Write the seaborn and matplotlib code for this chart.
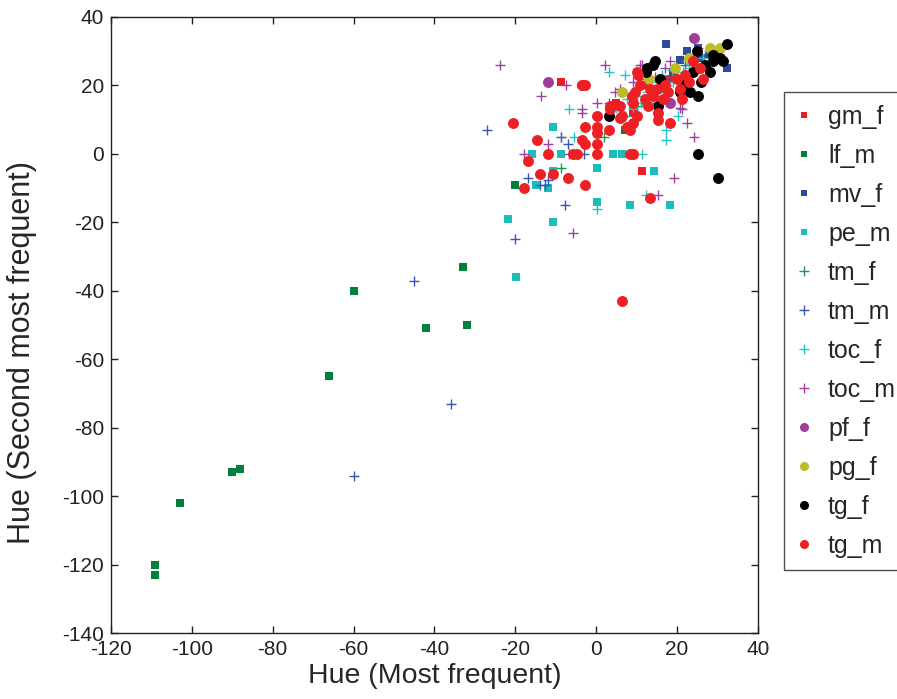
import numpy as np
import pandas as pd
import seaborn as sns
from matplotlib import pyplot as plt
from matplotlib.lines import Line2D

# hue pairs (most frequent, second most frequent) per group
gm_f_x = [-8.7, 11.4, 5, 12, 18, 9]
gm_f_y = [21, -5, 15, 20, 22, 12]

lf_m_x = [-109, -109, -103, -90, -88, -66, -60, -42, -33, -32, -20, 7]
lf_m_y = [-120, -123, -102, -93, -92, -65, -40, -51, -33, -50, -9, 7]

mv_f_x = [17.3, 32.4, 22.5, 20.8, 25.2, 16, 19, 26, 28]
mv_f_y = [32, 25, 30, 27.5, 31, 20, 24, 28, 29]

pe_m_x = [-21.8, -10.6, -15.8, -10.6, -8.7, 0.2, 4.2, 6.4, 14.3, 0.2, 8.4, 18.3,
          -14.8, -11.9, -19.8, -10.6, 12, 16, 9]
pe_m_y = [-19, -20, 0, 8, 0, -4, 0, 0, -5, -14, -15, -15,
          -9, -10, -36, -5, 15, 19, 14]

tm_f_x = [-8.7, 0.2, 2, 8, 10, 12, 15, 20, 24, 17]
tm_f_y = [-4, 3, 5, 8, 14, 15, 18, 22, 26, 20]

tm_m_x = [-45, -36, -60, -27, -20, -7.7, -16.8, -13.8, -12.6, -11.8, -7, 14, 18, 22, -3]
tm_m_y = [-37, -73, -94, 7, -25, -15, -7, -9, -9, -7.6, 3, 18, 22, 26, 0]

toc_f_x = [-6.7, 3.2, 7.1, 0.2, 11.4, 17.2, 17.2, 20.2, 0.2, 12.4, -5.4, -8.7, 7.2,
           30.2, 26.5, 24, 21.5, 20, 17.5, 15, 12.6, 10, 13.4, 16.2, 18.8, 22.5,
           7.6, 5, 9.2, 7.2, 28, 11, 14, 19, 23]
toc_f_y = [13, 24, 23, 11, 0, 7, 4, 11, -16, -12, 5, 5, 11,
           30, 28, 26, 24, 22, 20, 19, 18, 17, 21, 23, 24.5, 27,
           16, 13.5, 13.5, 11, 30, 15, 16, 21, 25]

toc_m_x = [-23.7, 2.2, -7.4, -13.6, -3.5, -3.5, 0.2, 3.2, -8.7, -11.9, -17.8, -6.7,
           19.3, 15.3, -5.7, 22.5, 24.2, 21.3, 11.4, 18.3, 25.2,
           4.7, 10.9, 20.8, 14.6, 17, 20, 9.2, 12, 6, 15]
toc_m_y = [26, 26, 20, 17, 13, 12, 15, 15, 5, 3, 0, 0,
           -7, -12, -23, 9, 5, 13, 26, 27, 31,
           18, 26, 13.5, 22.5, 25, 23, 21, 22, 19, 17]

pf_f_x = [-11.9, -3.5, 24.2, 18.3]
pf_f_y = [21, 20, 34, 15]

pg_f_x = [28.2, 30.7, 6.4, 13, 19.5, 23]
pg_f_y = [31, 31, 18, 22, 25, 28]

tg_f_x = [32.4, 29, 31.4, 28.2, 25.2, 23.2, 14.1, 12.4, 3.2, 15.3, 25.2, 30.2,
          24, 15.8, 20.8, 14.6, 12.6, 29, 25, 30.7, 21.5, 27, 26, 22]
tg_f_y = [32, 29, 27, 24, 17, 18, 26, 24, 11, 14, 0, -7,
          24, 22, 18, 27, 25, 27, 30, 28, 22, 26, 21, 20]

tg_m_x = [-20.7, -14.6, -16.8, -17.8, -13.8, -10.6, -11.9, -6.9, -2.7, -5.7, -4.7,
          -3.5, -2.7, 0.2, 0.2, 0.2, 0.2, -2.7, 3.2, 0.2, -2.7, -3.5, 8.4, 9.2,
          13.4, 6.4, 8.4, 7.6, 10.1, 15.3, 15.3, 18.3, 21.3, 9.6, 10.4, 3.5, 6,
          3.5, 6.4, 25.7, 26.5, 23, 17.8, 15, 10.9, 10, 8.9, 9.2, 6, 9.2, 12.9,
          20, 22, 24, 13.4, 16.6, 20.8, 12, 14, 17]
tg_m_y = [9, 4, -2, -10, -6, -6, 0, -7, -9, 0, 0,
          4, 3, 0, 3, 6, 8, 8, 7, 11, 20, 20, 0, 0,
          -13, 11, 7, 8, 11, 12, 10, 9, 16, 18, 23, 13, 10.5,
          14, -43, 25, 22, 21, 18, 19, 20, 24, 17, 15, 14, 9, 14,
          22, 23, 27, 19, 16, 19, 16, 17, 20]

groups = ['gm_f', 'lf_m', 'mv_f', 'pe_m', 'tm_f', 'tm_m',
          'toc_f', 'toc_m', 'pf_f', 'pg_f', 'tg_f', 'tg_m']
xs = [gm_f_x, lf_m_x, mv_f_x, pe_m_x, tm_f_x, tm_m_x,
      toc_f_x, toc_m_x, pf_f_x, pg_f_x, tg_f_x, tg_m_x]
ys = [gm_f_y, lf_m_y, mv_f_y, pe_m_y, tm_f_y, tm_m_y,
      toc_f_y, toc_m_y, pf_f_y, pg_f_y, tg_f_y, tg_m_y]

colors = ['#ed1c24', '#00803c', '#2e4a9e', '#1bbcbc', '#1a9a4a', '#3a56b4',
          '#22c4c4', '#a040a0', '#a03c9c', '#bdbd2a', '#000000', '#ee2024']
markers = ['s', 's', 's', 's', '+', '+', '+', '+', 'o', 'o', 'o', 'o']
sizes = [26, 26, 26, 26, 60, 60, 60, 60, 62, 62, 62, 62]

df = pd.concat([pd.DataFrame({'x': x, 'y': y, 'group': g}) for g, x, y in zip(groups, xs, ys)],
               ignore_index=True)

sns.set_style('ticks')
plt.rcParams['font.family'] = ['Liberation Sans', 'DejaVu Sans']
plt.rcParams['axes.unicode_minus'] = False

fig = plt.figure(figsize=(8.97, 6.99), dpi=100)
ax = fig.add_axes([0.1237, 0.0944, 0.7213, 0.8813])

for g, c, m, s in zip(groups, colors, markers, sizes):
    sub = df[df['group'] == g]
    if m == '+':
        sns.scatterplot(data=sub, x='x', y='y', ax=ax, marker='+', color=c, s=s,
                        linewidth=1.0, legend=False)
    else:
        sns.scatterplot(data=sub, x='x', y='y', ax=ax, marker=m, color=c, s=s,
                        linewidth=0, legend=False)

ax.set_xlim(-120, 40)
ax.set_ylim(-140, 40)
ax.set_xticks(np.arange(-120, 41, 20))
ax.set_yticks(np.arange(-140, 41, 20))
ax.tick_params(direction='in', top=True, right=True, length=5, width=1,
               labelsize=15, colors='#222222', pad=5)
for sp in ax.spines.values():
    sp.set_visible(True)
    sp.set_linewidth(1.0)
    sp.set_color('#222222')
ax.set_xlabel('Hue (Most frequent)', fontsize=20.5, labelpad=3)
ax.set_ylabel('Hue (Second most frequent)', fontsize=22)
ax.yaxis.set_label_coords(-0.115, 0.456)

handles = []
for g, c, m in zip(groups, colors, markers):
    if m == '+':
        h = Line2D([], [], linestyle='none', marker='+', color=c, markersize=7, markeredgewidth=1.0)
    elif m == 's':
        h = Line2D([], [], linestyle='none', marker='s', color=c, markersize=4.5, markeredgewidth=0)
    else:
        h = Line2D([], [], linestyle='none', marker='o', color=c, markersize=6.5, markeredgewidth=0)
    handles.append(h)

fig.legend(handles, groups, loc='upper left', bbox_to_anchor=(0.874, 0.868),
           frameon=True, fancybox=False, edgecolor='#222222', fontsize=18,
           labelspacing=0.6, handlelength=0.6, handletextpad=0.66, borderpad=0.5,
           borderaxespad=0)

fig.savefig('out.png', dpi=100)
